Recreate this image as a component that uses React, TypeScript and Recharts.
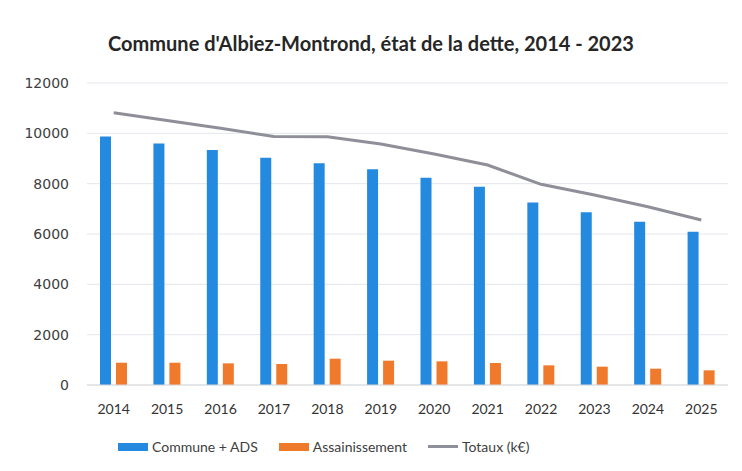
import { ComposedChart, Bar, Line, XAxis, YAxis, CartesianGrid } from "recharts";

const years = ["2014", "2015", "2016", "2017", "2018", "2019", "2020", "2021", "2022", "2023", "2024", "2025"];
const commune = [9870, 9600, 9340, 9030, 8810, 8570, 8240, 7880, 7250, 6860, 6490, 6090];
const assainissement = [886, 886, 860, 834, 1046, 967, 940, 874, 781, 728, 649, 583];
const totaux = [10820, 10510, 10200, 9870, 9860, 9575, 9180, 8740, 7975, 7550, 7085, 6555];
const yTicks = [0, 2000, 4000, 6000, 8000, 10000, 12000];

const BLUE = "#238ae0";
const ORANGE = "#f07a2c";
const GREY = "#8f8f99";

const rows = years.map((y, i) => ({
  year: y,
  commune: commune[i],
  assainissement: assainissement[i],
  totaux: totaux[i],
}));

const legendItems = [
  { label: "Commune + ADS", color: BLUE, kind: "bar" },
  { label: "Assainissement", color: ORANGE, kind: "bar" },
  { label: "Totaux (k€)", color: GREY, kind: "line" },
];

// legend drawn as plain html below the plot (sits left of centre in the original)
function ChartLegend() {
  return (
    <div
      style={{
        position: "absolute",
        top: 430,
        left: 110,
        display: "flex",
        gap: 21,
        fontFamily: "Lato",
        fontSize: 14,
        color: "#404040",
      }}
    >
      {legendItems.map((it) => (
        <span key={it.label} style={{ display: "flex", alignItems: "center", gap: 4 }}>
          <span
            style={{
              width: 30,
              height: it.kind === "bar" ? 8 : 3,
              background: it.color,
              display: "inline-block",
            }}
          />
          {it.label}
        </span>
      ))}
    </div>
  );
}

export default function App() {
  return (
    <div style={{ position: "relative", width: 726, height: 460, background: "#fff" }}>
      <div
        style={{
          position: "absolute",
          top: 23,
          left: 0,
          width: 726,
          textAlign: "center",
          fontFamily: "Lato",
          fontWeight: 700,
          fontSize: 20,
          color: "#262626",
        }}
      >
        Commune d'Albiez-Montrond, état de la dette, 2014 - 2023
      </div>
      <ComposedChart
        width={726}
        height={460}
        data={rows}
        margin={{ top: 75, right: 6, left: 0, bottom: 43 }}
        barGap={5}
      >
        <CartesianGrid vertical={false} stroke="#e3e6ec" />
        <XAxis
          dataKey="year"
          axisLine={{ stroke: "#d9d9d9" }}
          tickLine={false}
          tick={{ fontFamily: "Lato", fontSize: 14, fill: "#333" }}
          tickMargin={13}
          height={40}
        />
        <YAxis
          width={79}
          domain={[0, 12000]}
          ticks={yTicks}
          axisLine={false}
          tickLine={false}
          tick={{ fontFamily: "DejaVu Sans", fontSize: 14, fill: "#404040" }}
          tickMargin={12}
        />
        <Bar dataKey="commune" name="Commune + ADS" fill={BLUE} barSize={11} isAnimationActive={false} />
        <Bar dataKey="assainissement" name="Assainissement" fill={ORANGE} barSize={11} isAnimationActive={false} />
        <Line
          dataKey="totaux"
          name="Totaux (k€)"
          stroke={GREY}
          strokeWidth={3}
          dot={false}
          type="linear"
          isAnimationActive={false}
        />
      </ComposedChart>
      <ChartLegend />
    </div>
  );
}
